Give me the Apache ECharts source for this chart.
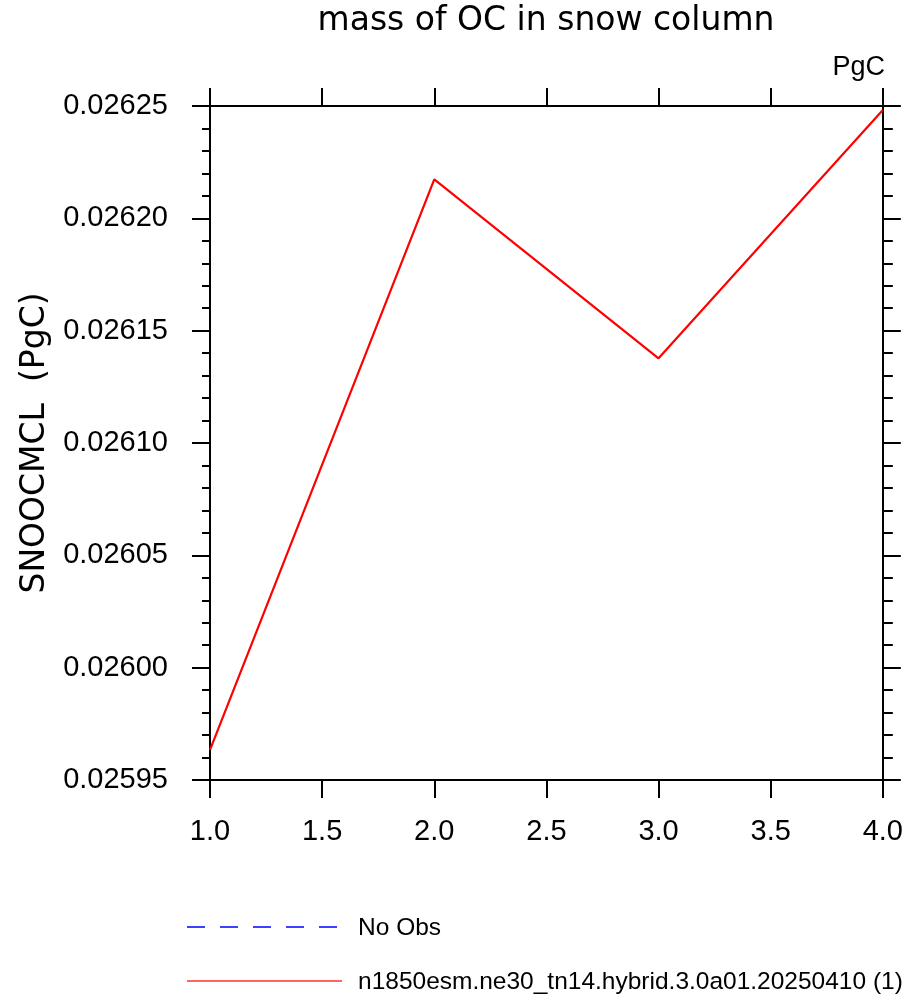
<!DOCTYPE html>
<html>
<head>
<meta charset="utf-8">
<script src="https://cdn.jsdelivr.net/npm/echarts@6/dist/echarts.min.js"></script>
<style>html,body{margin:0;padding:0;background:#fff}#c{width:906px;height:995px}</style>
</head>
<body>
<div id="c"></div>
<script>
var xValues = [1, 2, 3, 4];
var modelValues = [0.0259634, 0.0262173, 0.0261377, 0.0262482];
var obsValues = [];
var seriesNames = ['No Obs', 'n1850esm.ne30_tn14.hybrid.3.0a01.20250410 (1)'];
var titleText = 'mass of OC in snow column';
var yTitle = 'SNOOCMCL  (PgC)';
var unitText = 'PgC';

var FONT = 'Liberation Sans';
var WFONT = 'DejaVu Sans';
var chart = echarts.init(document.getElementById('c'), null, {renderer: 'canvas'});
var axisLine = {show: true, lineStyle: {color: '#000', width: 2}};
var tickStyle = {color: '#000', width: 2};
var opt = {
  animation: false,
  backgroundColor: '#fff',
  graphic: [
    {type: 'text', x: 546, y: 21, silent: true,
     style: {text: titleText, font: '33px "' + WFONT + '"', fill: '#000', textAlign: 'center', textVerticalAlign: 'middle'}},
    {type: 'text', x: 885, y: 68, silent: true,
     style: {text: unitText, font: '27px "' + FONT + '"', fill: '#000', textAlign: 'right', textVerticalAlign: 'middle'}},
    {type: 'line', silent: true, shape: {x1: 187, y1: 927, x2: 338, y2: 927},
     style: {stroke: '#0000ff', lineWidth: 1.3, lineDash: [18, 15]}},
    {type: 'text', x: 358, y: 928, silent: true,
     style: {text: seriesNames[0], font: '24.5px "' + FONT + '"', fill: '#000', textAlign: 'left', textVerticalAlign: 'middle'}},
    {type: 'line', silent: true, shape: {x1: 187, y1: 981, x2: 342, y2: 981},
     style: {stroke: '#ff3030', lineWidth: 1.5}},
    {type: 'text', x: 358, y: 982, silent: true,
     style: {text: seriesNames[1], font: '24.5px "' + FONT + '"', fill: '#000', textAlign: 'left', textVerticalAlign: 'middle'}}
  ],
  grid: {left: 210, right: 22, top: 106, bottom: 215, containLabel: false},
  xAxis: [{
    type: 'value', min: 1, max: 4, interval: 0.5, position: 'bottom',
    axisLine: axisLine,
    axisTick: {show: true, inside: false, length: 18, lineStyle: tickStyle},
    axisLabel: {margin: 37, fontFamily: FONT, fontSize: 29, color: '#000',
      formatter: function (v) { return v.toFixed(1); }},
    splitLine: {show: false}
  }, {
    type: 'value', min: 1, max: 4, interval: 0.5, position: 'top',
    axisLine: axisLine,
    axisTick: {show: true, inside: false, length: 18, lineStyle: tickStyle},
    axisLabel: {show: false}, splitLine: {show: false}
  }],
  yAxis: [{
    type: 'value', min: 0.02595, max: 0.02625, interval: 0.00005, position: 'left',
    name: yTitle, nameLocation: 'middle', nameGap: 149, nameRotate: 90,
    nameTextStyle: {fontFamily: WFONT, fontSize: 33, color: '#000'},
    axisLine: axisLine,
    axisTick: {show: true, inside: false, length: 18, lineStyle: tickStyle},
    minorTick: {show: true, splitNumber: 5, length: 8, lineStyle: tickStyle},
    axisLabel: {margin: 42, fontFamily: FONT, fontSize: 29, color: '#000',
      formatter: function (v) { return v.toFixed(5); }},
    splitLine: {show: false}, minorSplitLine: {show: false}
  }, {
    type: 'value', min: 0.02595, max: 0.02625, interval: 0.00005, position: 'right',
    axisLine: axisLine,
    axisTick: {show: true, inside: false, length: 18, lineStyle: tickStyle},
    minorTick: {show: true, splitNumber: 5, length: 10, lineStyle: tickStyle},
    axisLabel: {show: false}, splitLine: {show: false}, minorSplitLine: {show: false}
  }],
  series: [{
    name: seriesNames[0], type: 'line', symbol: 'none',
    data: obsValues,
    lineStyle: {color: '#0000ff', width: 1.5, type: [18, 15]}
  }, {
    name: seriesNames[1], type: 'line', symbol: 'none',
    data: xValues.map(function (x, i) { return [x, modelValues[i]]; }),
    lineStyle: {color: '#ff0000', width: 2.2}
  }]
};
chart.setOption(opt);
</script>
</body>
</html>
